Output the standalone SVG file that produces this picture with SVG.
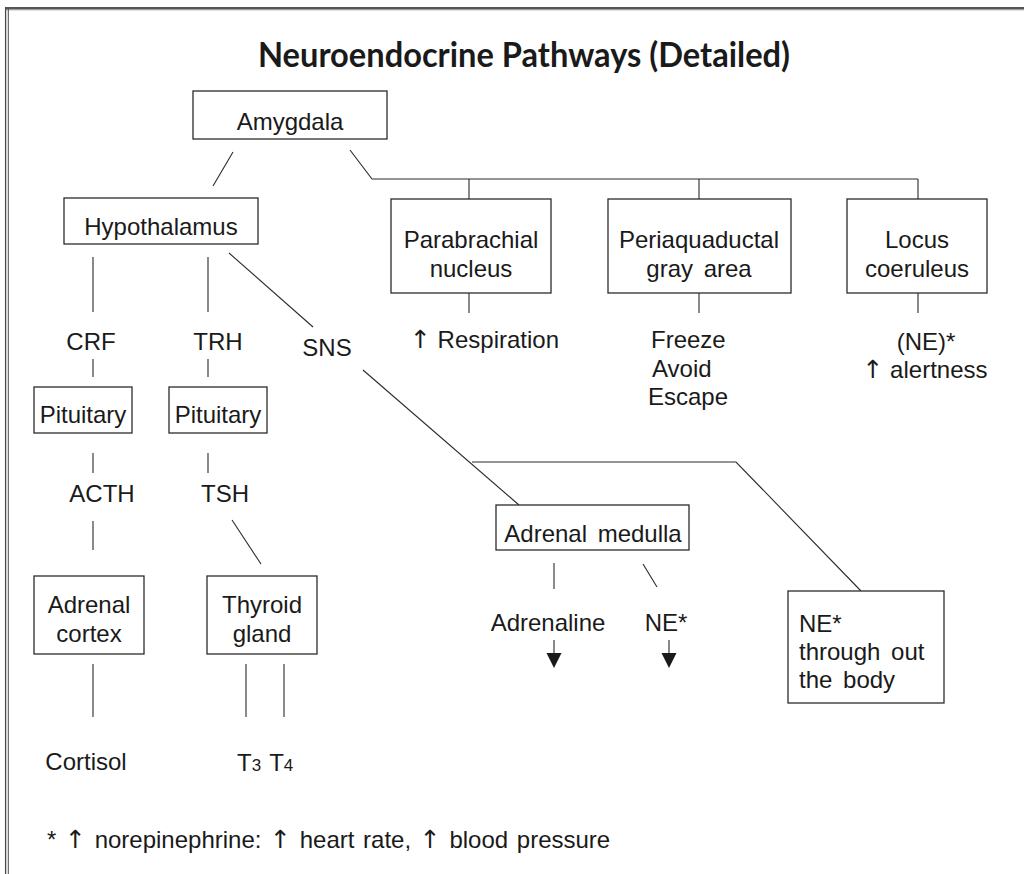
<svg xmlns="http://www.w3.org/2000/svg" width="1024" height="874" viewBox="0 0 1024 874">
  <style>
    .bg { fill: #ffffff; }
    .box { fill: #ffffff; stroke: #2b2b2b; stroke-width: 1.3; }
    .lbl { font-family: "Liberation Sans", Arial, sans-serif; font-size: 24px; fill: #1a1a1a; }
    .mid { text-anchor: middle; }
    .wide { word-spacing: 4px; }
    .sub { font-size: 17px; }
    .up { font-family: "DejaVu Sans", sans-serif; font-size: 25px; fill: #1a1a1a; }
    .title { font-family: Lato, "Liberation Sans", sans-serif; font-weight: 700; font-size: 35px; fill: #1a1a1a; text-anchor: middle; }
    .conn { fill: none; stroke: #2b2b2b; stroke-width: 1.1; }
    .head { fill: #1a1a1a; stroke: none; }
    .frame { fill: none; stroke: #4a4a4a; }
  </style>

  <rect class="bg" x="0" y="0" width="1024" height="874"/>

  <!-- page frame: heavy rule along the top, double rule on the left -->
  <g id="frame">
    <rect x="5" y="7" width="1019" height="2.6" fill="#555555"/>
    <rect x="5" y="9.6" width="1019" height="0.8" fill="#b0b0b0"/>
    <line class="frame" x1="5.6" y1="7" x2="5.6" y2="874" stroke-width="1.3"/>
    <line class="frame" x1="8.3" y1="9" x2="8.3" y2="874" stroke-width="1"/>
  </g>

  <text id="title" class="title" x="524" y="67" textLength="532" lengthAdjust="spacingAndGlyphs">Neuroendocrine Pathways (Detailed)</text>

  <!-- connectors -->
  <g id="connectors">
    <path class="conn" d="M233,152 L213,186"/>
    <path class="conn" d="M350,150 L372,179 L918,179"/>
    <path class="conn" d="M469,179 V199 M699,179 V199 M918,179 V199"/>
    <path class="conn" d="M469,293 V313 M699,293 V313 M918,293 V313"/>
    <path class="conn" d="M93,257 V312 M208,257 V312"/>
    <path class="conn" d="M229,253 L313,327"/>
    <path class="conn" d="M93,359 V377 M208,359 V377"/>
    <path class="conn" d="M93,453 V473 M208,453 V473"/>
    <path class="conn" d="M93,521 V550"/>
    <path class="conn" d="M232,520 L261,564"/>
    <path class="conn" d="M93,664 V717 M246,664 V717 M284,664 V717"/>
    <path class="conn" d="M363,370 L519,505"/>
    <path class="conn" d="M472,462 L736,462 L861,591"/>
    <path class="conn" d="M554,563 V589"/>
    <path class="conn" d="M643,564 L657,587"/>
    <!-- downward arrows under Adrenaline and NE* -->
    <path class="conn" d="M554,640 V654 M669,640 V654"/>
    <polygon class="head" points="546.5,653 561.5,653 554,668"/>
    <polygon class="head" points="661.5,653 676.5,653 669,668"/>
  </g>

  <!-- boxed nodes -->
  <g id="amygdala">
    <rect class="box" x="193" y="91" width="194" height="48"/>
    <text class="lbl mid" x="290" y="130">Amygdala</text>
  </g>
  <g id="hypothalamus">
    <rect class="box" x="64" y="198" width="194" height="46"/>
    <text class="lbl mid" x="161" y="235">Hypothalamus</text>
  </g>
  <g id="pituitary-crf">
    <rect class="box" x="34" y="387" width="98" height="46"/>
    <text class="lbl mid" x="83" y="423">Pituitary</text>
  </g>
  <g id="pituitary-trh">
    <rect class="box" x="169" y="387" width="98" height="46"/>
    <text class="lbl mid" x="218" y="423">Pituitary</text>
  </g>
  <g id="adrenal-cortex">
    <rect class="box" x="34" y="576" width="110" height="78"/>
    <text class="lbl mid" x="89" y="613">Adrenal</text>
    <text class="lbl mid" x="89" y="642">cortex</text>
  </g>
  <g id="thyroid-gland">
    <rect class="box" x="207" y="576" width="110" height="78"/>
    <text class="lbl mid" x="262" y="613">Thyroid</text>
    <text class="lbl mid" x="262" y="642">gland</text>
  </g>
  <g id="parabrachial">
    <rect class="box" x="391" y="199" width="160" height="94"/>
    <text class="lbl mid" x="471" y="248">Parabrachial</text>
    <text class="lbl mid" x="471" y="277">nucleus</text>
  </g>
  <g id="periaquaductal">
    <rect class="box" x="608" y="199" width="183" height="94"/>
    <text class="lbl mid" x="699" y="248">Periaquaductal</text>
    <text class="lbl mid wide" x="699" y="277">gray area</text>
  </g>
  <g id="locus-coeruleus">
    <rect class="box" x="847" y="199" width="140" height="94"/>
    <text class="lbl mid" x="917" y="248">Locus</text>
    <text class="lbl mid" x="917" y="277">coeruleus</text>
  </g>
  <g id="adrenal-medulla">
    <rect class="box" x="496" y="505" width="193" height="45"/>
    <text class="lbl mid wide" x="593" y="542">Adrenal medulla</text>
  </g>
  <g id="ne-body">
    <rect class="box" x="788" y="591" width="156" height="112"/>
    <text class="lbl wide" x="799" y="632">NE*</text>
    <text class="lbl wide" x="799" y="660">through out</text>
    <text class="lbl wide" x="799" y="688">the body</text>
  </g>

  <!-- unboxed labels -->
  <g id="crf"><text class="lbl mid" x="91" y="350">CRF</text></g>
  <g id="trh"><text class="lbl mid" x="218" y="350">TRH</text></g>
  <g id="sns"><text class="lbl mid" x="327" y="356">SNS</text></g>
  <g id="acth"><text class="lbl mid" x="102" y="502">ACTH</text></g>
  <g id="tsh"><text class="lbl mid" x="225" y="502">TSH</text></g>
  <g id="cortisol"><text class="lbl mid" x="86" y="770">Cortisol</text></g>
  <g id="t3-t4">
    <text class="lbl" x="237" y="771">T<tspan class="sub">3</tspan><tspan dx="8">T</tspan><tspan class="sub">4</tspan></text>
  </g>
  <g id="respiration"><text class="lbl" x="410" y="348"><tspan class="up">↑</tspan> Respiration</text></g>
  <g id="freeze-avoid-escape">
    <text class="lbl" x="651" y="348">Freeze</text>
    <text class="lbl" x="652" y="377">Avoid</text>
    <text class="lbl" x="648" y="405">Escape</text>
  </g>
  <g id="alertness">
    <text class="lbl mid" x="926" y="350">(NE)*</text>
    <text class="lbl mid" x="925" y="378"><tspan class="up">↑</tspan> alertness</text>
  </g>
  <g id="adrenaline"><text class="lbl mid" x="548" y="631">Adrenaline</text></g>
  <g id="ne-medulla"><text class="lbl mid" x="666" y="631">NE*</text></g>

  <g id="footnote">
    <text class="lbl" x="47" y="848" word-spacing="2">* <tspan class="up">↑</tspan> norepinephrine: <tspan class="up">↑</tspan> heart rate, <tspan class="up">↑</tspan> blood pressure</text>
  </g>
</svg>
